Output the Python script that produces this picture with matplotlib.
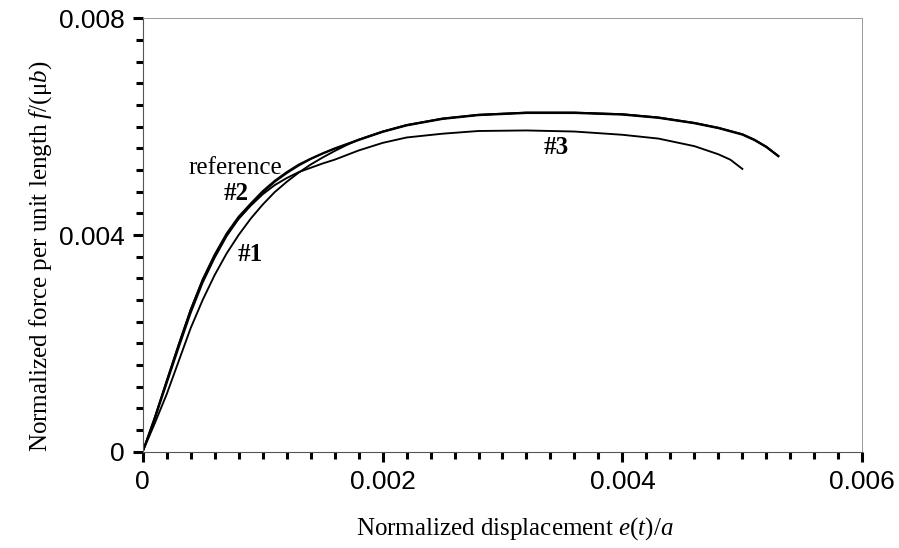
import matplotlib.pyplot as plt
from matplotlib.ticker import MultipleLocator, FixedFormatter, FixedLocator

plt.rcParams['mathtext.fontset'] = 'custom'
plt.rcParams['mathtext.it'] = 'Liberation Serif:italic'
plt.rcParams['mathtext.rm'] = 'Liberation Serif'

# force-displacement curves (normalized)
ref_x = [0, 0.0001, 0.0002, 0.0003, 0.0004, 0.0005, 0.0006, 0.0007, 0.0008, 0.0009,
         0.0010, 0.0011, 0.0012, 0.0013, 0.0014, 0.0015, 0.0016, 0.0017, 0.0018,
         0.0020, 0.0022, 0.0025, 0.0028, 0.0032, 0.0036, 0.0040, 0.0043, 0.0046,
         0.0048, 0.0050, 0.0051, 0.0052, 0.0053]
ref_y = [0, 0.00062, 0.00130, 0.00197, 0.00262, 0.00318, 0.00364, 0.00403, 0.00434,
         0.00458, 0.00481, 0.00500, 0.00516, 0.00530, 0.00541, 0.00551, 0.00560,
         0.00568, 0.00576, 0.00591, 0.00603, 0.00615, 0.00622, 0.00626, 0.00626,
         0.00623, 0.00617, 0.00607, 0.00598, 0.00586, 0.00576, 0.00563, 0.00546]

s2_x = [0, 0.0001, 0.0002, 0.0003, 0.0004, 0.0005, 0.0006, 0.0007, 0.0008, 0.0009,
        0.0010, 0.0011, 0.0012, 0.0013, 0.0014, 0.0015, 0.0016, 0.0017, 0.0018,
        0.0020, 0.0022, 0.0025, 0.0028, 0.0032, 0.0036, 0.0040, 0.0043, 0.0046,
        0.0048, 0.0050, 0.0051, 0.0052, 0.0053]
s2_y = [0, 0.00060, 0.00126, 0.00192, 0.00256, 0.00312, 0.00358, 0.00398, 0.00430,
        0.00455, 0.00478, 0.00498, 0.00514, 0.00528, 0.00540, 0.00550, 0.00559,
        0.00567, 0.00575, 0.00590, 0.00602, 0.00614, 0.00621, 0.00625, 0.00625,
        0.00622, 0.00616, 0.00606, 0.00597, 0.00585, 0.00575, 0.00562, 0.00545]

s1_x = [0, 0.0001, 0.0002, 0.0003, 0.0004, 0.0005, 0.0006, 0.0007, 0.0008, 0.0009,
        0.0010, 0.0011, 0.0012, 0.0013, 0.0014, 0.0015, 0.0016, 0.0017, 0.0018,
        0.0020, 0.0022, 0.0025, 0.0028, 0.0032, 0.0036, 0.0040, 0.0043, 0.0046,
        0.0048, 0.0050, 0.0051, 0.0052, 0.0053]
s1_y = [0, 0.00052, 0.00106, 0.00167, 0.00228, 0.00280, 0.00326, 0.00366, 0.00400,
        0.00430, 0.00456, 0.00479, 0.00498, 0.00515, 0.00530, 0.00543, 0.00555,
        0.00566, 0.00576, 0.00591, 0.00603, 0.00615, 0.00622, 0.00626, 0.00626,
        0.00623, 0.00617, 0.00607, 0.00598, 0.00586, 0.00576, 0.00563, 0.00546]

s3_x = [0, 0.0001, 0.0002, 0.0003, 0.0004, 0.0005, 0.0006, 0.0007, 0.0008, 0.0009,
        0.0010, 0.0011, 0.0012, 0.0013, 0.0014, 0.0015, 0.0016, 0.0018, 0.0020,
        0.0022, 0.0025, 0.0028, 0.0032, 0.0036, 0.0040, 0.0043, 0.0046, 0.0048,
        0.0049, 0.0050]
s3_y = [0, 0.00063, 0.00131, 0.00198, 0.00262, 0.00317, 0.00362, 0.00400, 0.00430,
        0.00454, 0.00475, 0.00492, 0.00505, 0.00516, 0.00524, 0.00532, 0.00539,
        0.00556, 0.00570, 0.00580, 0.00587, 0.00592, 0.00593, 0.00591, 0.00585,
        0.00578, 0.00564, 0.00549, 0.00539, 0.00522]

curve_labels = ["reference", "#2", "#1", "#3"]
label_x = [0.000769, 0.000778, 0.000894, 0.003444]
label_y = [0.005237, 0.004757, 0.003649, 0.005624]
label_weight = ["normal", "bold", "bold", "bold"]

fig = plt.figure(figsize=(8.99, 5.48), dpi=100)
ax = fig.add_axes([0.1587, 0.1757, 0.8005, 0.7909])

for xs, ys in [(ref_x, ref_y), (s2_x, s2_y), (s1_x, s1_y), (s3_x, s3_y)]:
    ax.plot(xs, ys, color='black', lw=1.35, solid_joinstyle='round')

for name, tx, ty, w in zip(curve_labels, label_x, label_y, label_weight):
    ax.text(tx, ty, name, family='Liberation Serif', fontsize=18,
            fontweight=w, ha='center', va='center')

ax.set_xlim(0, 0.006)
ax.set_ylim(0, 0.008)

ax.xaxis.set_major_locator(FixedLocator([0, 0.002, 0.004, 0.006]))
ax.xaxis.set_major_formatter(FixedFormatter(["0", "0.002", "0.004", "0.006"]))
ax.xaxis.set_minor_locator(MultipleLocator(0.0002))
ax.yaxis.set_major_locator(FixedLocator([0, 0.004, 0.008]))
ax.yaxis.set_major_formatter(FixedFormatter(["0", "0.004", "0.008"]))
ax.yaxis.set_minor_locator(MultipleLocator(0.0004))

ax.tick_params(which='both', direction='out', width=2.2, colors='black',
               top=False, right=False)
ax.tick_params(which='major', length=7, pad=6, labelsize=19)
ax.tick_params(which='minor', length=5)
for lab in ax.get_xticklabels() + ax.get_yticklabels():
    lab.set_family('Liberation Sans')

for side in ['left', 'bottom']:
    ax.spines[side].set_linewidth(0.8)
    ax.spines[side].set_color('#555555')
for side in ['top', 'right']:
    ax.spines[side].set_linewidth(0.7)
    ax.spines[side].set_color('#999999')

ax.set_xlabel(r"Normalized displacement $\mathit{e}\mathit{(t)/a}$",
              family='Liberation Serif', fontsize=18)
ax.set_ylabel(r"Normalized force per unit length $\mathit{f}$/(μ$\mathit{b}$)",
              family='Liberation Serif', fontsize=18)
ax.xaxis.set_label_coords(0.517, -0.146)
ax.yaxis.set_label_coords(-0.123, 0.45)

fig.savefig("out.png", dpi=100)
